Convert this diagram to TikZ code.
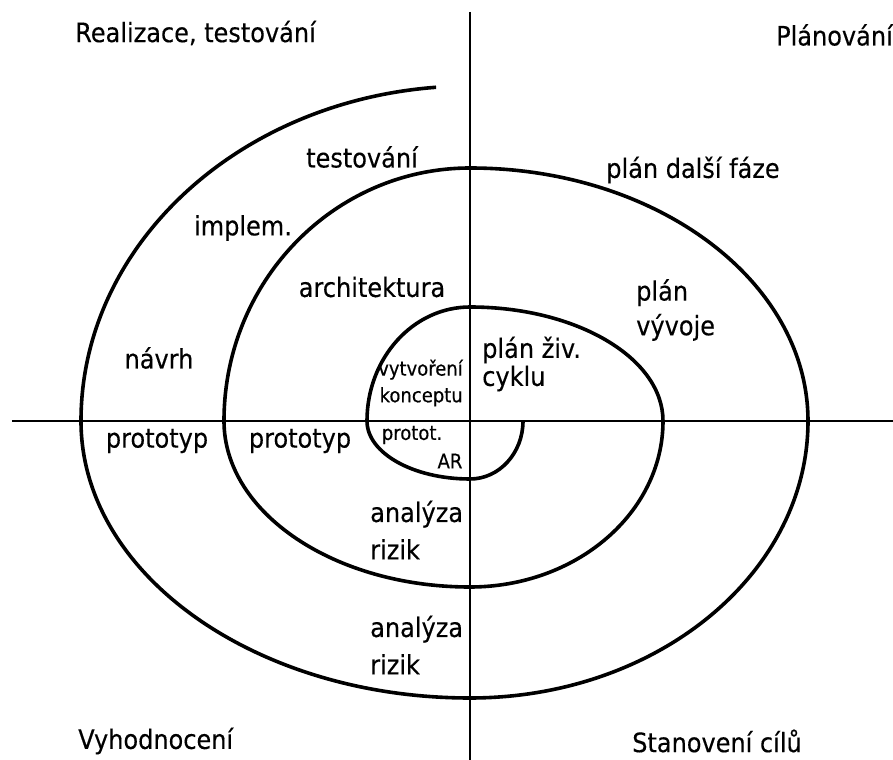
\documentclass[tikz,border=0pt]{standalone}
\usepackage{fontspec}
\setmainfont{DejaVu Sans}[FakeStretch=0.9, FakeBold=0.3]
\usepackage{tikz}
\usepackage{xcolor}
\usetikzlibrary{calc}

\begin{document}
\begin{tikzpicture}
    [x=0.75pt, y=0.75pt,
    lbl/.style={inner sep=0pt, font=\fontsize{20}{26}\selectfont},
    small/.style={inner sep=0pt, font=\fontsize{15}{20}\selectfont},
    spiral/.style={line width=2.7pt},
    axis/.style={line width=1.5pt}]
    \useasboundingbox (-470,-339) rectangle (423,421);
    % axes
    \coordinate (top) at (0,409);
    \coordinate (bottom) at (0,-339);
    \coordinate (left) at (-458,0);
    \coordinate (right) at (423,0);
    \draw[axis] (top) -- (bottom);
    \draw[axis] (left) -- (right);
    % spiral
    \draw[spiral] (53,0)
        \foreach \s/\rx/\ry in {0/53/58,-90/103/58,180/103/114,90/193/114,0/193/166,-90/246/166,180/246/253,90/338/253,0/338/277,-90/389/277}{
            arc[start angle=\s, delta angle=-90, x radius=\rx, y radius=\ry]
        }
        arc[start angle=180, end angle=95, x radius=389, y radius=335];
    % quadrant labels
    \node (real)[lbl, anchor=west] at (-395,388) {Realizace, testování};
    \node (plan)[lbl, anchor=east] at (423,386) {Plánování};
    \node (vyhod)[lbl, anchor=west] at (-392,-320) {Vyhodnocení};
    \node (cile)[lbl, anchor=west] at (162,-320) {Stanovení cílů};
    % phases
    \foreach \n/\x/\y/\t in {test/-108/264/testování, impl/-227/193/implem., dalsi/223/251/{plán další fáze}, arch/-98/134/architektura, navrh/-311/63/návrh, proto1/-313/-20/prototyp, proto2/-170/-20/prototyp}{
        \node(\n)[lbl] at (\x,\y) {\t};
    }
    \node (vyvoj)[lbl, anchor=west, align=left] at (166,111) {plán\\vývoje};
    \node (zivot)[lbl, anchor=west, align=left, font=\fontsize{20}{21}\selectfont] at (12,57) {plán živ.\\cyklu};
    \node (koncept)[small, anchor=east, align=right] at (-7,38) {vytvoření\\konceptu};
    \node (protar)[small] at (-58,-14) {protot.};
    \node (ar)[small] at (-20,-40) {AR};
    \node (riz1)[lbl, anchor=west, align=left, font=\fontsize{20}{28}\selectfont] at (-100,-109) {analýza\\rizik};
    \node (riz2)[lbl, anchor=west, align=left, font=\fontsize{20}{28}\selectfont] at (-100,-224) {analýza\\rizik};
\end{tikzpicture}
\end{document}
